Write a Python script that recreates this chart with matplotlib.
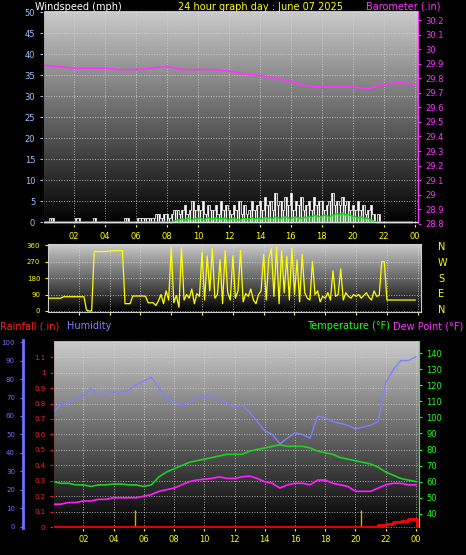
import numpy as np
import matplotlib
matplotlib.use("Agg")
import matplotlib.pyplot as plt

plt.rcParams["font.family"] = ["DejaVu Sans"]
plt.rcParams["font.size"] = 6

# ---- data ----
baro_hours = np.arange(25)
baro = [29.89, 29.88, 29.87, 29.87, 29.87, 29.86, 29.86, 29.87, 29.88, 29.86,
        29.86, 29.86, 29.85, 29.83, 29.82, 29.80, 29.78, 29.75, 29.74, 29.74,
        29.74, 29.73, 29.76, 29.77, 29.76]

wind_gust = [0, 0, 0, 1, 1, 0,  0, 0, 0, 0, 0, 0,  0, 1, 1, 0, 0, 0,  0, 0, 1, 0, 0, 0,
             0, 0, 0, 0, 0, 0,  0, 0, 1, 1, 0, 0,  0, 1, 1, 1, 1, 1,  1, 1, 2, 2, 1, 2,
             2, 1, 2, 3, 3, 2,  3, 4, 2, 3, 5, 3,  4, 3, 5, 2, 4, 3,  3, 4, 2, 5, 3, 4,
             3, 2, 4, 3, 5, 2,  4, 2, 3, 5, 3, 4,  5, 3, 6, 4, 5, 3,  7, 4, 5, 3, 6, 4,
             7, 3, 5, 4, 6, 3,  4, 5, 3, 6, 4, 5,  5, 3, 4, 5, 7, 4,  5, 4, 6, 4, 5, 3,
             4, 3, 5, 3, 4, 2,  3, 4, 2, 0, 2, 0,  0, 0, 0, 0, 0, 0,  0, 0, 0, 0, 0, 0]
wind_avg = [0] * 48 + [0, 0, 0, 0.3, 0.5, 0.6,  0.8, 0.5, 1, 0.7, 0.6, 0.8,
            0.9, 1, 0.6, 0.8, 1.1, 0.7,  0.8, 1, 0.9, 0.7, 1, 0.8,
            0.6, 0.8, 1, 0.7, 0.5, 0.8,  0.9, 0.7, 0.8, 1, 0.8, 0.9,
            1, 0.8, 1.2, 0.9, 1.1, 0.8,  1.2, 1, 0.9, 1.1, 1.3, 1,
            0.9, 1.1, 1.3, 1, 0.9, 1.2,  1, 1.4, 1.2, 1.6, 1.5, 1.3,
            1.4, 1.7, 1.5, 1.3, 1.6, 1.8,  2, 1.8, 2.2, 1.7, 1.9, 1.6,
            1.4, 1.2, 1, 1.3, 0.9, 1,  0.8, 0.6, 0.3, 0, 0, 0] + [0] * 12

wind_dir = ([70] * 6 + [78] * 9 + [5, 0, 0]
            + [325, 325, 325, 325, 325, 325, 328, 328, 330, 330, 330, 330]
            + [40, 40, 40] + [82, 82, 82, 82, 82, 80] + [45, 45, 45]
            + [30, 55, 90, 40, 110, 60, 350, 45, 85, 20, 345, 60,
               90, 70, 120, 40, 95, 80, 320, 60, 300, 110, 340, 70,
               90, 280, 40, 330, 100, 60, 300, 70, 110, 330, 50, 95,
               80, 120, 60, 40, 90, 110, 310, 60, 290, 340, 80, 350,
               40, 330, 100, 300, 60, 345, 90, 280, 50, 310, 100, 70,
               60, 270, 90, 110, 50, 80, 70, 100, 60, 220, 80, 90,
               230, 60, 100, 80, 70, 90, 80, 90, 70, 85, 100, 75,
               60, 110, 80, 85, 270, 270]
            + [60] * 12)
ten_min = np.arange(144) / 6.0

half_hours = np.arange(49) / 2.0
humidity = [62, 66, 67, 70, 71, 75, 71, 72, 73, 73, 74, 77, 79, 81, 75, 70, 67, 66,
            67, 70, 71, 70, 70, 67, 65, 66, 62, 57, 52, 50, 45, 48, 51, 50, 48, 60,
            59, 57, 56, 55, 53, 54, 55, 57, 78, 85, 90, 90, 92]
temperature = [60, 59, 59, 58, 58, 57, 58, 58, 58.5, 58.5, 58, 58, 57, 58, 63, 66,
               68, 70, 72, 73, 74, 75, 76, 77, 77, 77, 79, 80, 81, 82, 83, 82, 82,
               82, 81, 79, 78, 77, 75, 74, 73, 72, 71, 69, 66, 64, 62, 61, 60]
dew_point = [46, 46, 47, 47, 48, 48, 49, 49, 50, 50, 50, 50, 51, 52, 54, 55, 56, 58,
             60, 61, 61.5, 62, 63, 62, 62, 63, 63.5, 62, 60, 59, 56, 58, 59, 59, 58,
             61, 61, 59, 58, 57, 54, 54, 54, 56, 58, 59, 59, 58, 58]
rain_hours = [0, 21.5, 22, 22.5, 23, 23.5, 24, 24.05]
rain = [0, 0.01, 0.02, 0.03, 0.04, 0.05, 0.05, 0]
rate_marks = [5.4, 20.4]

xticks = np.arange(2, 25, 2)
xlabels = ["%02d" % (h % 24) for h in xticks]

# ---- figure ----
fig = plt.figure(figsize=(4.66, 5.55), dpi=100)
fig.patch.set_facecolor("black")


def style(ax, xlab=True):
    grad = np.linspace(0.8, 0.0, 256).reshape(-1, 1)
    ax.imshow(grad, cmap="gray", vmin=0, vmax=1, aspect="auto",
              extent=[0, 1, 0, 1], transform=ax.transAxes, zorder=0)
    ax.set_xlim(0, 24.2)
    ax.set_xticks(xticks)
    ax.set_xticklabels(xlabels if xlab else [])
    ax.tick_params(axis="x", colors="#ffff00", labelsize=6, length=2)
    ax.grid(True, color="#dddddd", linestyle=":", linewidth=0.7, alpha=0.7)
    for s in ax.spines.values():
        s.set_color("#cccccc")


# top: windspeed + barometer
ax1 = fig.add_axes([0.092, 0.596, 0.805, 0.386])
style(ax1)
ax1.set_ylim(-0.5, 50.5)
ax1.set_yticks(range(0, 51, 5))
ax1.tick_params(axis="y", colors="#9ec4ff", labelsize=6, length=2)
ax1.vlines(ten_min, 0, wind_gust, color="white", linewidth=1.0, zorder=2)
ax1.step(ten_min, wind_gust, where="mid", color="#e8e8e8", linewidth=0.6, zorder=2)
ax1.fill_between(ten_min, 0, wind_avg, color="#90ee90", alpha=0.5, zorder=3)
ax1.plot(ten_min, wind_avg, color="#00dd00", linewidth=1, zorder=4)
ax1.axhline(0, color="#dddddd", linewidth=1, zorder=4)
ax1b = ax1.twinx()
ax1b.set_ylim(28.8 - 0.0035, 30.27)
ax1b.set_yticks(np.round(np.arange(28.8, 30.25, 0.1), 1))
ax1b.set_yticklabels(["%g" % v for v in np.round(np.arange(28.8, 30.25, 0.1), 1)])
ax1b.tick_params(axis="y", colors="#ff33ff", labelsize=6, length=2)
ax1b.spines["right"].set_color("#ff33ff")
ax1b.plot(baro_hours, baro, color="#ff33ff", linewidth=1.2)

fig.text(0.075, 0.988, "Windspeed (mph)", color="white", fontsize=7, va="center")
fig.text(0.56, 0.988, "24 hour graph day : June 07 2025", color="#ffff00",
         fontsize=7, ha="center", va="center")
fig.text(0.945, 0.988, "Barometer (.in)", color="#ff33ff", fontsize=7,
         ha="right", va="center")

# middle: wind direction
ax2 = fig.add_axes([0.103, 0.438, 0.80, 0.122])
style(ax2, xlab=False)
ax2.set_ylim(-5, 365)
ax2.set_yticks([0, 90, 180, 270, 360])
ax2.tick_params(axis="y", colors="#ffff00", labelsize=5, length=2)
ax2.plot(ten_min, wind_dir, color="#ffff00", linewidth=0.9, zorder=3)
for lab, yy in zip(["N", "W", "S", "E", "N"], [0.555, 0.527, 0.498, 0.470, 0.441]):
    fig.text(0.94, yy, lab, color="#ffff00", fontsize=7, va="center")

# bottom: rain, humidity, temperature, dew point
ax3 = fig.add_axes([0.114, 0.049, 0.785, 0.338])
style(ax3)
ax3.set_ylim(-0.005, 1.21)
ax3.set_yticks(np.round(np.arange(0, 1.15, 0.1), 1))
ax3.set_yticklabels(["%g" % v for v in np.round(np.arange(0, 1.15, 0.1), 1)])
ax3.tick_params(axis="y", colors="#ff2020", labelsize=5, length=2)
ax3.spines["left"].set_color("#ff4040")
ax3.step(rain_hours, rain, where="post", color="#ff0000", linewidth=2, zorder=5)
ax3.vlines(rate_marks, 0, 0.11, color="#c8b400", linewidth=1, zorder=4)

ax3h = ax3.twinx()
ax3h.spines["left"].set_position(("outward", 22))
ax3h.spines["left"].set_visible(True)
ax3h.spines["left"].set_color("#7070ff")
ax3h.spines["left"].set_linewidth(2)
ax3h.yaxis.set_ticks_position("left")
ax3h.yaxis.set_label_position("left")
ax3h.spines["right"].set_visible(False)
ax3h.set_ylim(-0.5, 101)
ax3h.set_yticks(range(0, 101, 10))
ax3h.tick_params(axis="y", colors="#7070ff", labelsize=5, length=2)
ax3h.plot(half_hours, humidity, color="#8080ff", linewidth=1)

ax3t = ax3.twinx()
ax3t.set_ylim(31.3, 148)
ax3t.set_yticks(range(40, 141, 10))
ax3t.tick_params(axis="y", colors="#20ff20", labelsize=6, length=2)
ax3t.spines["right"].set_color("#20ff20")
ax3t.plot(half_hours, temperature, color="#20d020", linewidth=1.2)
ax3t.plot(half_hours, dew_point, color="#ff20ff", linewidth=1.2)

fig.text(0.0, 0.412, "Rainfall (.in)", color="#ff2020", fontsize=7, va="center")
fig.text(0.143, 0.412, "Humidity", color="#8080ff", fontsize=7, va="center")
fig.text(0.838, 0.412, "Temperature (\u00b0F)", color="#20ff20", fontsize=7,
         ha="right", va="center")
fig.text(0.995, 0.412, "Dew Point (\u00b0F)", color="#ff33ff", fontsize=7,
         ha="right", va="center")

fig.savefig("out.png", dpi=100, facecolor="black")
